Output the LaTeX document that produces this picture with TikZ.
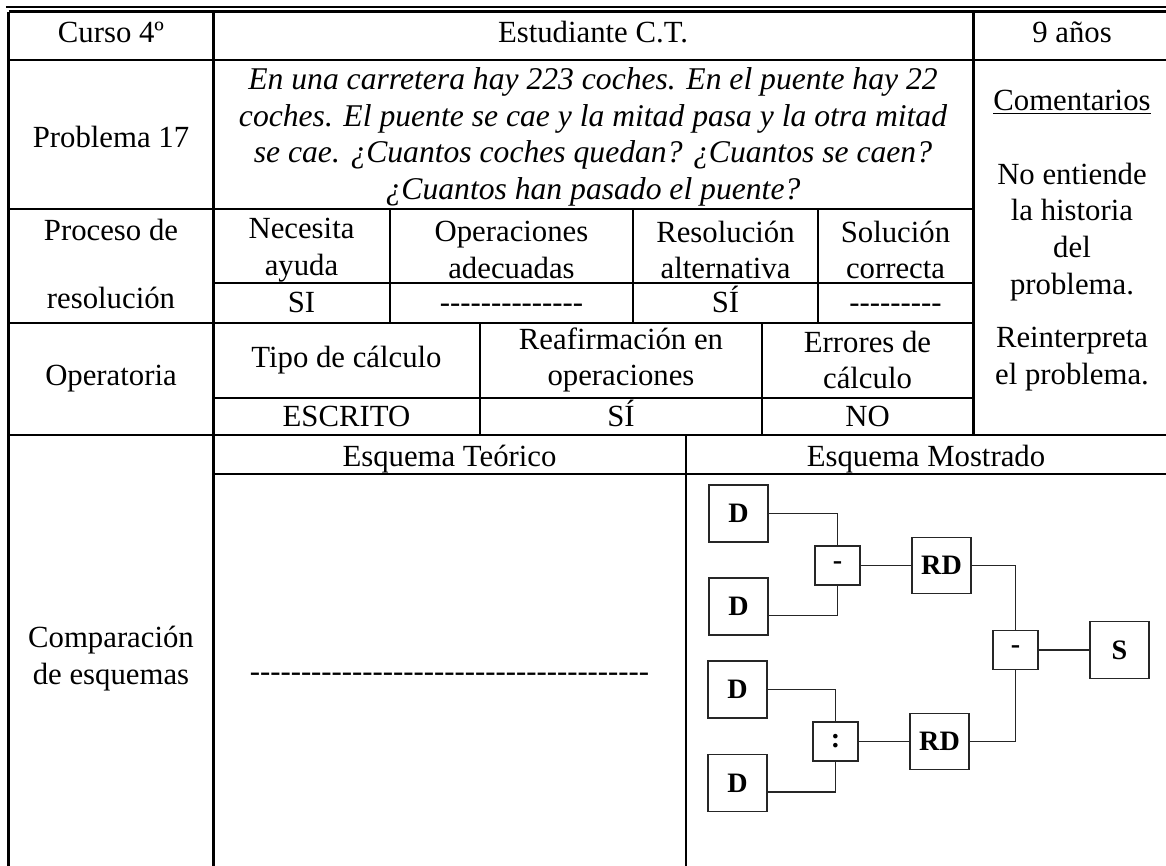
\documentclass[tikz,border=0pt]{standalone}
\usepackage{fontspec}
\setmainfont{Liberation Serif}[Ligatures=TeXOff]

\begin{document}
\begin{tikzpicture}[
    frame/.style={line width=0.06cm},
    rowline/.style={line width=0.045cm},
    cellline/.style={line width=0.035cm},
    txt/.style={align=center, inner sep=0pt, font=\fontsize{17.5}{21}\selectfont},
    val/.style={txt, anchor=base},
    prob/.style={align=center, inner sep=0pt, font=\fontsize{18}{20.8}\selectfont\itshape},
    blk/.style={draw=black!85, line width=0.035cm, minimum width=1.18cm, minimum height=1.14cm, inner sep=0pt, font=\fontsize{16}{16}\selectfont\bfseries},
    opblk/.style={blk, minimum width=0.90cm, minimum height=0.78cm},
    wire/.style={draw=black!85, line width=0.035cm}
  ]
  \useasboundingbox (0,0) rectangle (23.32,17.32);

  % Drawing outer frame
  \draw [line width=0.025cm] (0.12,17.18) -- (23.32,17.18);%
  \draw [frame] (0.18,17.08) -- (23.32,17.08);%
  \draw [frame] (0.18,17.08) -- (0.18,0);%
  \draw [frame] (4.26,17.08) -- (4.26,0);%
  \draw [frame] (19.46,17.08) -- (19.46,8.62);%

  % Drawing row lines
  \draw [rowline] (0.18,16.12) -- (23.32,16.12);%
  \draw [rowline] (0.18,13.14) -- (19.46,13.14);%
  \draw [cellline] (4.26,11.66) -- (19.46,11.66);%
  \draw [rowline] (0.18,10.86) -- (19.46,10.86);%
  \draw [cellline] (4.26,9.36) -- (19.46,9.36);%
  \draw [rowline] (0.18,8.62) -- (23.32,8.62);%
  \draw [rowline] (4.26,7.84) -- (23.32,7.84);%

  % Drawing cell dividers
  \draw [cellline] (7.80,13.14) -- (7.80,10.86);%
  \draw [cellline] (12.66,13.14) -- (12.66,10.86);%
  \draw [cellline] (16.36,13.14) -- (16.36,10.86);%
  \draw [cellline] (9.60,10.86) -- (9.60,8.62);%
  \draw [cellline] (15.24,10.86) -- (15.24,8.62);%
  \draw [cellline] (13.72,8.62) -- (13.72,0);%

  % Heading row
  \node [val] (curso) at (2.22,16.46) {Curso 4º};%
  \node [val] (alumno) at (11.86,16.46) {Estudiante C.T.};%
  \node [val] (edad) at (21.44,16.46) {9 años};%

  % Problem row
  \node [txt] (problema) at (2.22,14.58) {Problema 17};%
  \node [prob] (enunciado) at (11.86,14.58) {En una carretera hay 223 coches. En el puente hay 22\\coches. El puente se cae y la mitad pasa y la otra mitad\\se cae. ¿Cuantos coches quedan? ¿Cuantos se caen?\\¿Cuantos han pasado el puente?};%

  % Comments column
  \node [txt] (comentarios) at (21.44,15.28) {\underline{Comentarios}};%
  \node [txt] (coment1) at (21.44,12.68) {No entiende\\la historia\\del\\problema.};%
  \node [txt] (coment2) at (21.44,10.14) {Reinterpreta\\el problema.};%

  % Proceso de resolucion
  \node [txt] (proceso) at (2.22,12.72) {Proceso de};%
  \node [txt] (resolucion) at (2.22,11.36) {resolución};%
  \node [txt] (ayuda) at (6.03,12.32) {Necesita\\ayuda};%
  \node [txt] (adecuadas) at (10.23,12.32) {Operaciones\\adecuadas};%
  \node [txt] (alternativa) at (14.51,12.32) {Resolución\\alternativa};%
  \node [txt] (correcta) at (17.91,12.32) {Solución\\correcta};%
  \node [val] (ayudaval) at (6.03,11.06) {SI};%
  \node [val] (adecuadasval) at (10.23,11.06) {--------------};%
  \node [val] (alternativaval) at (14.51,11.06) {SÍ};%
  \node [val] (correctaval) at (17.91,11.06) {---------};%

  % Operatoria
  \node [txt] (operatoria) at (2.22,9.74) {Operatoria};%
  \node [txt] (tipo) at (6.93,10.12) {Tipo de cálculo};%
  \node [txt] (reafirma) at (12.42,10.12) {Reafirmación en\\operaciones};%
  \node [txt] (errores) at (17.35,10.12) {Errores de\\cálculo};%
  \node [val] (tipoval) at (6.93,8.78) {ESCRITO};%
  \node [val] (reafirmaval) at (12.42,8.78) {SÍ};%
  \node [val] (erroresval) at (17.35,8.78) {NO};%

  % Comparacion de esquemas
  \node [txt] (comparacion) at (2.22,4.14) {Comparación\\de esquemas};%
  \node [val] (teorico) at (8.99,7.98) {Esquema Teórico};%
  \node [val] (mostrado) at (18.52,7.98) {Esquema Mostrado};%
  \node [val] (teoricoval) at (8.99,3.68) {---------------------------------------};%

  % Boxes of the shown scheme
  \node [blk] (D1) at (14.77,7.05) {D};%
  \node [blk] (D2) at (14.77,5.19) {D};%
  \node [blk] (D3) at (14.75,3.53) {D};%
  \node [blk] (D4) at (14.75,1.66) {D};%
  \node [opblk] (opA) at (16.75,6.01) {-};%
  \node [opblk] (opB) at (16.71,2.49) {:};%
  \node [blk, minimum height=1.12cm] (RD1) at (18.83,6.01) {RD};%
  \node [blk, minimum height=1.12cm] (RD2) at (18.79,2.49) {RD};%
  \node [opblk] (opC) at (20.31,4.32) {-};%
  \node [blk] (S) at (22.39,4.32) {S};%

  % Drawing wires of the shown scheme
  \draw [wire] (D1.east) -| (opA.north);%
  \draw [wire] ([yshift=-0.18cm]D2.east) -| (opA.south);%
  \draw [wire] (D3.east) -| (opB.north);%
  \draw [wire] ([yshift=-0.18cm]D4.east) -| (opB.south);%
  \draw [wire] (opA) -- (RD1);%
  \draw [wire] (opB) -- (RD2);%
  \draw [wire] (RD1.east) -| (opC.north);%
  \draw [wire] (RD2.east) -| (opC.south);%
  \draw [wire] (opC) -- (S);%
\end{tikzpicture}
\end{document}
